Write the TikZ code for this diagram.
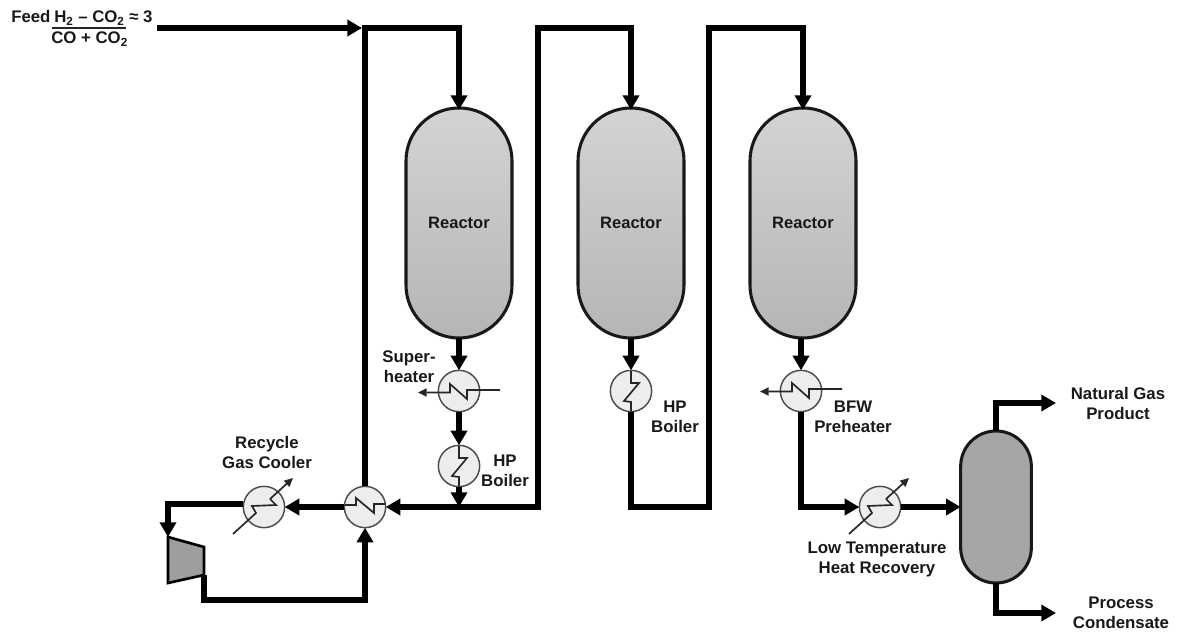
\documentclass[tikz,border=0pt]{standalone}
\usepackage{fontspec}
\setmainfont{Liberation Sans}
\usetikzlibrary{arrows.meta,calc}
\tikzset{
  lbl/.style={font=\bfseries\fontsize{12.6}{15}\selectfont,align=center,inner sep=0pt,text=black!90},
  vessel/.style={draw=black!90,line width=2.3pt,rectangle,inner sep=0pt,outer sep=0pt,
     minimum width=79.5pt,minimum height=172.5pt,rounded corners=39.7pt,top color=black!17,bottom color=black!29,
     font=\bfseries\fontsize{12.4}{14}\selectfont,text=black!90},
  sepv/.style={draw=black!90,line width=2.3pt,rectangle,inner sep=0pt,outer sep=0pt,
     minimum width=53pt,minimum height=114pt,rounded corners=26.5pt,fill=black!35},
  hx/.style={circle,draw=black!70,line width=1.1pt,fill=black!7,minimum size=31pt,inner sep=0pt,outer sep=0pt},
  comp/.style={draw=black,line width=2pt,fill=black!38,line join=miter},
  pipe/.style={line width=4pt,draw=black,line join=miter},
  flow/.style={pipe,-{Triangle[length=11pt,width=12pt]}},
  flowboth/.style={pipe,{Triangle[length=11pt,width=12pt]}-{Triangle[length=11pt,width=12pt]}},
  coil/.style={line width=1.25pt,draw=black!85,line join=miter},
  utilarrow/.style={coil,-{Triangle[length=6.5pt,width=6pt]}},
}
\begin{document}
\begin{tikzpicture}[x=0.75pt,y=-0.75pt]
\useasboundingbox (0,0) rectangle (1178,635);
% vessels
\node[vessel] (r1) at (459,223) {Reactor};
\node[vessel] (r2) at (631,223) {Reactor};
\node[vessel] (r3) at (803,223) {Reactor};
\node[sepv] (sep) at (996,507) {};
% exchangers
\node[hx] (sh) at (459,391) {};
\node[hx] (hp1) at (459,466) {};
\node[hx] (fe) at (365,507) {};
\node[hx] (rc) at (264,507) {};
\node[hx] (hp2) at (631,391) {};
\node[hx] (bfw) at (801,391) {};
\node[hx] (lt) at (880,507) {};
% compressor
\coordinate (cin) at (168,537);
\coordinate (cout) at (204,575);
\draw[comp] (168,537) -- (204,547) -- (204,575) -- (168,583) -- cycle;
% free ends and bends
\coordinate (feed) at (157,28);
\coordinate (feedend) at (362,28);
\coordinate (t1) at (365,28);
\coordinate (t2) at (538,28);
\coordinate (t3) at (709,28);
\coordinate (j1) at (459,507);
\coordinate (j2) at (538,507);
\coordinate (b2) at (631,507);
\coordinate (b3) at (709,507);
\coordinate (b4) at (801,507);
\coordinate (gp) at (1056,403);
\coordinate (pc) at (1056,613);
\coordinate (c1) at (168,504);
\coordinate (c2) at (204,600);
\coordinate (c3) at (365,600);
% pipes
\draw[flow] (feed) -- (feedend);
\draw[flow] (fe.north) -- (t1) -| ([yshift=-1.5pt]r1.north);
\draw[flowboth] (fe.east) -- (j2) -- (t2) -| ([yshift=-1.5pt]r2.north);
\draw[flow] (r1.south) -- (sh.north);
\draw[flow] (sh.south) -- (hp1.north);
\draw[flow] (hp1.south) -- (j1);
\draw[flow] (fe.west) -- (rc.east);
\draw[flow] (rc.west) ++(0,-3) -- (c1) -- (cin);
\draw[flow] (cout) -- (c2) -- (c3) -- (fe.south);
\draw[flow] (r2.south) -- (hp2.north);
\draw[flow] (hp2.south) -- (b2) -- (b3) -- (t3) -| ([yshift=-1.5pt]r3.north);
\draw[flow] (bfw.north |- r3.south) -- (bfw.north);
\draw[flow] (bfw.south) -- (b4) -- (lt.west);
\draw[flow] (lt.east) -- (sep.west);
\draw[flow] (sep.north) |- (gp);
\draw[flow] (sep.south) |- (pc);
% coils
\draw[utilarrow] (500,390) -- (467,390) -- (467,399) -- (450,384) -- (450,392.5) -- (418,392.5);
\draw[utilarrow] (842,389) -- (809,389) -- (809,398) -- (792,383) -- (792,391.5) -- (760,391.5);
\foreach \c in {hp1,hp2}{
  \draw[coil] ($(\c)+(0,-20)$) -- ++(0,12) -- ++(8,0) -- ++(-15,18) -- ++(7,1) -- ++(0,9);
}
\draw[coil] (345,505) -- (356,505) -- (356,498) -- (374,513) -- (374,504) -- (385,504);
\foreach \c in {rc,lt}{
  \draw[coil] ($(\c)+(-31,27)$) -- ++(23,-21) -- ++(-4,-7) -- ++(24,-1) -- ++(-6,-6);
  \draw[utilarrow] ($(\c)+(6,-8)$) -- ++(23,-21);
}
% labels
\node[lbl,anchor=base west] (feedlbl) at (11,23) {Feed};
\node[lbl,anchor=base west] (num) at (54,23) {H\textsubscript{2} – CO\textsubscript{2} ≈ 3};
\node[lbl,anchor=base west] (den) at (51,44) {CO + CO\textsubscript{2}};
\coordinate (barl) at (52,28);
\coordinate (barr) at (126,28);
\draw[line width=1pt,black!85] (barl) -- (barr);
\node[lbl] (l1) at (409,367) {Super-\\heater};
\node[lbl] (l2) at (505,471) {HP\\Boiler};
\node[lbl] (l3) at (675,417) {HP\\Boiler};
\node[lbl] (l4) at (853,417) {BFW\\Preheater};
\node[lbl] (l5) at (267,452) {Recycle\\Gas Cooler};
\node[lbl] (l6) at (877,559) {Low Temperature\\Heat Recovery};
\node[lbl] (l7) at (1118,403) {Natural Gas\\Product};
\node[lbl] (l8) at (1121,613) {Process\\Condensate};
\end{tikzpicture}
\end{document}
